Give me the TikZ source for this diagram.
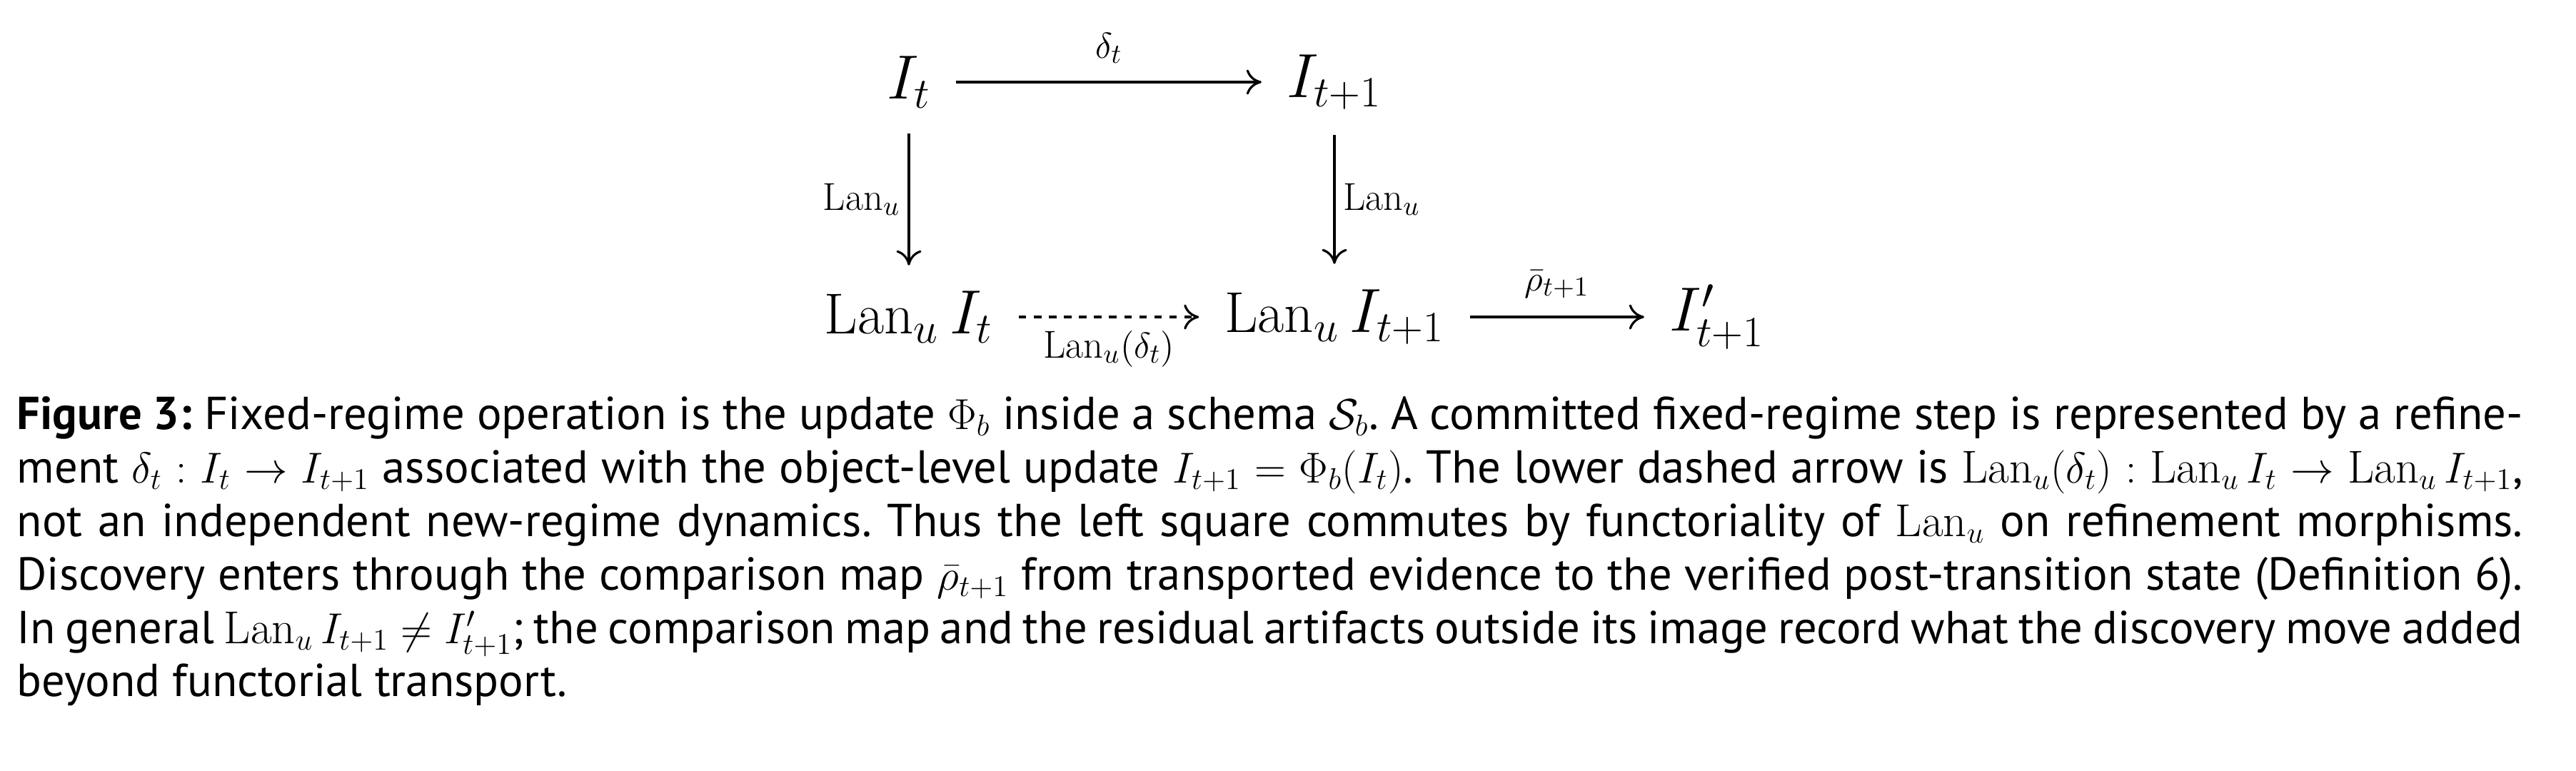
\documentclass[tikz,border=0pt]{standalone}
\usepackage{amsmath,amssymb}
\usepackage{fontspec}
\setsansfont{PT Sans}
\usepackage{tikz}
\usetikzlibrary{
  arrows.meta,
  positioning
}
\newcommand{\Lan}{\operatorname{Lan}}
\frenchspacing

\begin{document}
\begin{tikzpicture}[
  obj/.style={font=\fontsize{23}{27}\selectfont, inner sep=2pt},
  mor/.style={-{To[length=6pt,width=10pt]}, line width=0.9pt, shorten >=8pt, shorten <=8pt},
  lbl/.style={font=\fontsize{15.5}{18}\selectfont, inner sep=3pt},
  caption/.style={font=\sffamily\fontsize{18.4}{21.3}\selectfont, text width=35.1cm,
    align=justify, inner sep=0pt, anchor=north west}
]
  \useasboundingbox (0,0) rectangle (36.08,-10.80);

  % ── Objects ──
  \node[obj] (it)   at (12.73,-1.15) {$I_t$};
  \node[obj] (itn)  at (18.69,-1.15) {$I_{t+1}$};
  \node[obj] (lit)  at (12.73,-4.44) {$\Lan_u I_t$};
  \node[obj] (litn) at (18.69,-4.44) {$\Lan_u I_{t+1}$};
  \node[obj] (ipr)  at (24.05,-4.44) {$I'_{t+1}$};

  % ── Morphisms ──
  \draw[mor] (it) -- (itn) node[midway, lbl, above=4pt] {$\delta_t$};
  \draw[mor] (it) -- (lit) node[midway, lbl, left] {$\Lan_u$};
  \draw[mor] (itn) -- (litn) node[midway, lbl, right] {$\Lan_u$};
  \draw[mor, dashed] (lit) -- (litn) node[midway, lbl, below=2pt] {$\Lan_u(\delta_t)$};
  \draw[mor] (litn) -- (ipr) node[midway, lbl, above=4pt] {$\bar\rho_{t+1}$};

  % ── Caption ──
  \node[caption] (cap) at (0.23,-5.55) {\textbf{Figure 3:} Fixed-regime operation is the update $\Phi_b$ inside a schema $\mathcal{S}_b$. A committed fixed-regime step is represented by a refinement $\delta_t : I_t \to I_{t+1}$ associated with the object-level update $I_{t+1} = \Phi_b(I_t)$. The lower dashed arrow is $\Lan_u(\delta_t) : \Lan_u I_t \to \Lan_u I_{t+1}$, not an independent new-regime dynamics. Thus the left square commutes by functoriality of $\Lan_u$ on refinement morphisms. Discovery enters through the comparison map $\bar\rho_{t+1}$ from transported evidence to the verified post-transition state (Definition 6). In general $\Lan_u I_{t+1} \neq I'_{t+1}$; the comparison map and the residual artifacts outside its image record what the discovery move added beyond functorial transport.\par};
\end{tikzpicture}
\end{document}
